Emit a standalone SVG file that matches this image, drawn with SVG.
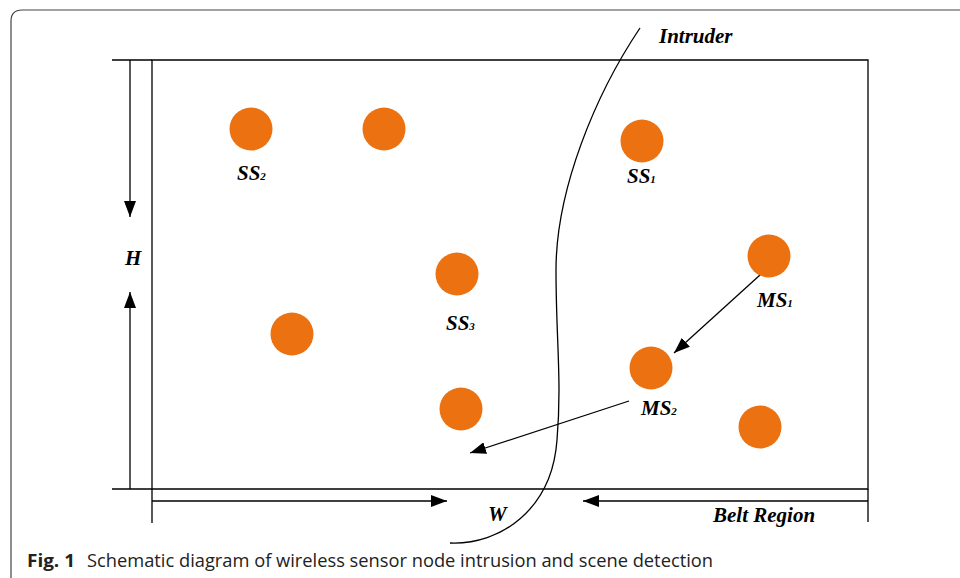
<svg xmlns="http://www.w3.org/2000/svg" width="960" height="578" viewBox="0 0 960 578">
<defs>
<marker id="ah" viewBox="0 0 16 12" refX="16" refY="6" markerWidth="16" markerHeight="12" markerUnits="userSpaceOnUse" orient="auto">
<path d="M0,0 L16,6 L0,12 Z" fill="#000"/>
</marker>
<style>
.ln{stroke:#000;stroke-width:1.3;fill:none}
.ar{stroke:#000;stroke-width:1.3;fill:none;marker-end:url(#ah)}
.nd{fill:#EC7211}
.lb{font-family:"Liberation Serif","Times New Roman",serif;font-weight:bold;font-style:italic;font-size:21px;fill:#000}
.sb{font-size:11px}
</style>
</defs>
<rect width="960" height="578" fill="#fff"/>
<path d="M11,578 V21 Q11,10 22,10 H960" fill="none" stroke="#444" stroke-width="1.2"/>
<g id="frame">
<path class="ln" d="M152,60 H868 V489 H152 Z"/>
<path class="ln" d="M112,60 H152 M112,489 H152"/>
<path class="ln" d="M152,489 V523 M868,489 V522"/>
</g>
<g id="connectors">
<path class="ar" d="M130,60 V217"/>
<path class="ar" d="M130,489 V292"/>
<path class="ar" d="M152,501 H447"/>
<path class="ar" d="M868,501 H583"/>
<path class="ar" d="M760,275 L674,353"/>
<path class="ar" d="M629,401 L470,453"/>
</g>
<g id="intruder">
<path class="ln" d="M640,28 C595,95 556,190 556,270 C556,340 562,380 557,440 C552,510 500,545 450,543"/>
<text class="lb" x="659" y="43">Intruder</text>
</g>
<g id="SS2"><circle class="nd" cx="251" cy="129" r="21.5"/><text class="lb" x="237" y="180">SS<tspan class="sb">2</tspan></text></g>
<g id="n2"><circle class="nd" cx="384" cy="129" r="21.5"/></g>
<g id="SS1"><circle class="nd" cx="642" cy="141" r="21.5"/><text class="lb" x="627" y="183">SS<tspan class="sb">1</tspan></text></g>
<g id="MS1"><circle class="nd" cx="769" cy="256" r="21.5"/><text class="lb" x="757" y="307">MS<tspan class="sb">1</tspan></text></g>
<g id="SS3"><circle class="nd" cx="457" cy="274" r="21.5"/><text class="lb" x="446" y="330">SS<tspan class="sb">3</tspan></text></g>
<g id="n6"><circle class="nd" cx="292" cy="334" r="21.5"/></g>
<g id="MS2"><circle class="nd" cx="651" cy="368" r="21.5"/><text class="lb" x="641" y="415">MS<tspan class="sb">2</tspan></text></g>
<g id="n8"><circle class="nd" cx="461" cy="409" r="21.5"/></g>
<g id="n9"><circle class="nd" cx="760" cy="427" r="21.5"/></g>
<text class="lb" x="125" y="265">H</text>
<text class="lb" x="488" y="521">W</text>
<text class="lb" x="713" y="522">Belt Region</text>
<text x="27" y="567" font-family="'Open Sans','Noto Sans',sans-serif" font-size="18" fill="#222"><tspan font-weight="bold" textLength="48" lengthAdjust="spacingAndGlyphs">Fig. 1</tspan><tspan x="87" textLength="626" lengthAdjust="spacingAndGlyphs">Schematic diagram of wireless sensor node intrusion and scene detection</tspan></text>
</svg>
